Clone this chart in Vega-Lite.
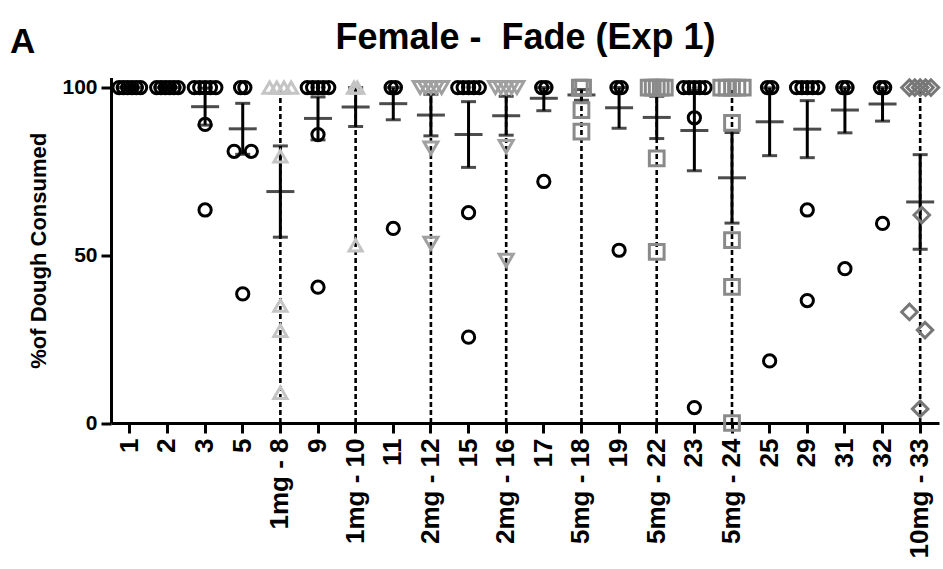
{
  "$schema": "https://vega.github.io/schema/vega-lite/v6.json",
  "autosize": {"type": "none"},
  "padding": {"left": 111, "top": 77.5, "right": 4, "bottom": 146},
  "width": 828,
  "height": 345.5,
  "background": "white",
  "title": {"text": "A", "anchor": "start", "frame": "bounds", "fontSize": 35, "font": "Liberation Sans", "fontWeight": "bold", "color": "black", "baseline": "alphabetic", "offset": 0, "dx": -18, "dy": 69},
  "config": {
    "view": {"stroke": null},
    "axis": {"grid": false, "labelFont": "Liberation Sans", "titleFont": "Liberation Sans", "domainColor": "black", "tickColor": "black", "labelColor": "black", "titleColor": "black"}
  },
  "resolve": {"axis": {"x": "independent"}},
  "datasets": {
    "pts": [
      {"c":"1","v":100,"g":"veh","r":-2},{"c":"1","v":100,"g":"veh","r":-1.2},{"c":"1","v":100,"g":"veh","r":-0.4},{"c":"1","v":100,"g":"veh","r":0.4},{"c":"1","v":100,"g":"veh","r":1.2},{"c":"1","v":100,"g":"veh","r":2},
      {"c":"2","v":100,"g":"veh","r":-2},{"c":"2","v":100,"g":"veh","r":-1.2},{"c":"2","v":100,"g":"veh","r":-0.4},{"c":"2","v":100,"g":"veh","r":0.4},{"c":"2","v":100,"g":"veh","r":1.2},{"c":"2","v":100,"g":"veh","r":2},
      {"c":"3","v":100,"g":"veh","r":-2},{"c":"3","v":100,"g":"veh","r":-1},{"c":"3","v":100,"g":"veh","r":0},{"c":"3","v":100,"g":"veh","r":1},{"c":"3","v":100,"g":"veh","r":2},{"c":"3","v":89,"g":"veh","r":0},{"c":"3","v":63.5,"g":"veh","r":0},
      {"c":"5","v":100,"g":"veh","r":-0.4},{"c":"5","v":100,"g":"veh","r":0.4},{"c":"5","v":81,"g":"veh","r":-1.6},{"c":"5","v":81,"g":"veh","r":1.6},{"c":"5","v":38.5,"g":"veh","r":0},
      {"c":"1mg - 8","v":100,"g":"1mg","r":-2},{"c":"1mg - 8","v":100,"g":"1mg","r":-0.67},{"c":"1mg - 8","v":100,"g":"1mg","r":0.67},{"c":"1mg - 8","v":100,"g":"1mg","r":2},{"c":"1mg - 8","v":79.5,"g":"1mg","r":0},{"c":"1mg - 8","v":35,"g":"1mg","r":0},{"c":"1mg - 8","v":27.5,"g":"1mg","r":0},{"c":"1mg - 8","v":9,"g":"1mg","r":0},
      {"c":"9","v":100,"g":"veh","r":-2},{"c":"9","v":100,"g":"veh","r":-1},{"c":"9","v":100,"g":"veh","r":0},{"c":"9","v":100,"g":"veh","r":1},{"c":"9","v":100,"g":"veh","r":2},{"c":"9","v":86,"g":"veh","r":0},{"c":"9","v":40.5,"g":"veh","r":0},
      {"c":"1mg - 10","v":100,"g":"1mg","r":-0.3},{"c":"1mg - 10","v":100,"g":"1mg","r":0.3},{"c":"1mg - 10","v":53,"g":"1mg","r":0},
      {"c":"11","v":100,"g":"veh","r":-0.4},{"c":"11","v":100,"g":"veh","r":0.4},{"c":"11","v":58,"g":"veh","r":0},
      {"c":"2mg - 12","v":100,"g":"2mg","r":-2},{"c":"2mg - 12","v":100,"g":"2mg","r":-1},{"c":"2mg - 12","v":100,"g":"2mg","r":0},{"c":"2mg - 12","v":100,"g":"2mg","r":1},{"c":"2mg - 12","v":100,"g":"2mg","r":2},{"c":"2mg - 12","v":82,"g":"2mg","r":0},{"c":"2mg - 12","v":53.6,"g":"2mg","r":0},
      {"c":"15","v":100,"g":"veh","r":-2},{"c":"15","v":100,"g":"veh","r":-1},{"c":"15","v":100,"g":"veh","r":0},{"c":"15","v":100,"g":"veh","r":1},{"c":"15","v":100,"g":"veh","r":2},{"c":"15","v":62.7,"g":"veh","r":0},{"c":"15","v":25.6,"g":"veh","r":0},
      {"c":"2mg - 16","v":100,"g":"2mg","r":-2},{"c":"2mg - 16","v":100,"g":"2mg","r":-1},{"c":"2mg - 16","v":100,"g":"2mg","r":0},{"c":"2mg - 16","v":100,"g":"2mg","r":1},{"c":"2mg - 16","v":100,"g":"2mg","r":2},{"c":"2mg - 16","v":82.4,"g":"2mg","r":0},{"c":"2mg - 16","v":48.5,"g":"2mg","r":0},
      {"c":"17","v":100,"g":"veh","r":-0.4},{"c":"17","v":100,"g":"veh","r":0.4},{"c":"17","v":72,"g":"veh","r":0},
      {"c":"5mg - 18","v":100,"g":"5mg","r":-0.3},{"c":"5mg - 18","v":100,"g":"5mg","r":0.3},{"c":"5mg - 18","v":93.3,"g":"5mg","r":0},{"c":"5mg - 18","v":86.9,"g":"5mg","r":0},
      {"c":"19","v":100,"g":"veh","r":-0.4},{"c":"19","v":100,"g":"veh","r":0.4},{"c":"19","v":51.5,"g":"veh","r":0},
      {"c":"5mg - 22","v":100,"g":"5mg","r":-1.5},{"c":"5mg - 22","v":100,"g":"5mg","r":-0.75},{"c":"5mg - 22","v":100,"g":"5mg","r":0},{"c":"5mg - 22","v":100,"g":"5mg","r":0.75},{"c":"5mg - 22","v":100,"g":"5mg","r":1.5},{"c":"5mg - 22","v":78.9,"g":"5mg","r":0},{"c":"5mg - 22","v":51,"g":"5mg","r":0},
      {"c":"23","v":100,"g":"veh","r":-2},{"c":"23","v":100,"g":"veh","r":-1},{"c":"23","v":100,"g":"veh","r":0},{"c":"23","v":100,"g":"veh","r":1},{"c":"23","v":100,"g":"veh","r":2},{"c":"23","v":91,"g":"veh","r":0},{"c":"23","v":4.6,"g":"veh","r":0},
      {"c":"5mg - 24","v":100,"g":"5mg","r":-2},{"c":"5mg - 24","v":100,"g":"5mg","r":-1},{"c":"5mg - 24","v":100,"g":"5mg","r":0},{"c":"5mg - 24","v":100,"g":"5mg","r":1},{"c":"5mg - 24","v":100,"g":"5mg","r":2},{"c":"5mg - 24","v":89.5,"g":"5mg","r":0},{"c":"5mg - 24","v":54.5,"g":"5mg","r":0},{"c":"5mg - 24","v":40.6,"g":"5mg","r":0},{"c":"5mg - 24","v":0,"g":"5mg","r":0},
      {"c":"25","v":100,"g":"veh","r":-0.4},{"c":"25","v":100,"g":"veh","r":0.4},{"c":"25","v":18.5,"g":"veh","r":0},
      {"c":"29","v":100,"g":"veh","r":-2},{"c":"29","v":100,"g":"veh","r":-1},{"c":"29","v":100,"g":"veh","r":0},{"c":"29","v":100,"g":"veh","r":1},{"c":"29","v":100,"g":"veh","r":2},{"c":"29","v":63.5,"g":"veh","r":0},{"c":"29","v":36.5,"g":"veh","r":0},
      {"c":"31","v":100,"g":"veh","r":-0.4},{"c":"31","v":100,"g":"veh","r":0.4},{"c":"31","v":46,"g":"veh","r":0},
      {"c":"32","v":100,"g":"veh","r":-0.4},{"c":"32","v":100,"g":"veh","r":0.4},{"c":"32","v":59.5,"g":"veh","r":0},
      {"c":"10mg - 33","v":100,"g":"10mg","r":-2},{"c":"10mg - 33","v":100,"g":"10mg","r":-1},{"c":"10mg - 33","v":100,"g":"10mg","r":0},{"c":"10mg - 33","v":100,"g":"10mg","r":1},{"c":"10mg - 33","v":100,"g":"10mg","r":2},{"c":"10mg - 33","v":62,"g":"10mg","r":0.3},{"c":"10mg - 33","v":33.1,"g":"10mg","r":-2},{"c":"10mg - 33","v":27.7,"g":"10mg","r":0.9},{"c":"10mg - 33","v":4.2,"g":"10mg","r":0}
    ],
    "stats": [
      {"c":"1","m":100,"lo":100,"hi":100,"g":"veh"},
      {"c":"2","m":100,"lo":100,"hi":100,"g":"veh"},
      {"c":"3","m":94.3,"lo":88.8,"hi":99.8,"g":"veh"},
      {"c":"5","m":87.7,"lo":80.1,"hi":95.3,"g":"veh"},
      {"c":"1mg - 8","m":69,"lo":55.4,"hi":82.6,"g":"1mg"},
      {"c":"9","m":90.8,"lo":84.4,"hi":97.2,"g":"veh"},
      {"c":"1mg - 10","m":94.2,"lo":88.4,"hi":100,"g":"1mg"},
      {"c":"11","m":95.2,"lo":90.4,"hi":100,"g":"veh"},
      {"c":"2mg - 12","m":91.8,"lo":85.6,"hi":98,"g":"2mg"},
      {"c":"15","m":86,"lo":76.2,"hi":95.8,"g":"veh"},
      {"c":"2mg - 16","m":91.6,"lo":85.8,"hi":97.4,"g":"2mg"},
      {"c":"17","m":96.8,"lo":93.1,"hi":100,"g":"veh"},
      {"c":"5mg - 18","m":97.8,"lo":96.2,"hi":99.4,"g":"5mg"},
      {"c":"19","m":94,"lo":87.9,"hi":100,"g":"veh"},
      {"c":"5mg - 22","m":91.1,"lo":84.8,"hi":97.4,"g":"5mg"},
      {"c":"23","m":87.2,"lo":75.2,"hi":99.2,"g":"veh"},
      {"c":"5mg - 24","m":73.1,"lo":59.6,"hi":86.6,"g":"5mg"},
      {"c":"25","m":89.8,"lo":79.7,"hi":99.9,"g":"veh"},
      {"c":"29","m":87.6,"lo":79.1,"hi":96.1,"g":"veh"},
      {"c":"31","m":93.3,"lo":86.5,"hi":100,"g":"veh"},
      {"c":"32","m":95.1,"lo":90,"hi":100,"g":"veh"},
      {"c":"10mg - 33","m":65.9,"lo":51.8,"hi":80,"g":"10mg"}
    ]
  },
  "layer": [
    {
      "data": {"name": "stats"},
      "transform": [{"filter": "datum.g != 'veh'"}],
      "mark": {"type": "rule", "color": "black", "strokeWidth": 2.6, "strokeDash": [5, 3]},
      "encoding": {
        "x": {
          "field": "c", "type": "nominal",
          "scale": {"type": "band", "paddingInner": 0, "paddingOuter": 0, "domain": ["1","2","3","5","1mg - 8","9","1mg - 10","11","2mg - 12","15","2mg - 16","17","5mg - 18","19","5mg - 22","23","5mg - 24","25","29","31","32","10mg - 33"]},
          "axis": {"orient": "bottom", "title": null, "labelAngle": -90, "labelFontSize": 26, "labelFontWeight": "bold", "labelPadding": 5, "tickSize": 10, "tickWidth": 3, "domainWidth": 3, "labelOverlap": false, "labelLimit": 300}
        },
        "y": {
          "datum": 0, "type": "quantitative", "title": "%of Dough Consumed",
          "scale": {"domain": [0, 103], "nice": false, "zero": true},
          "axis": {"values": [0, 50, 100], "labelFontSize": 21, "labelFontWeight": "bold", "labelPadding": 4, "tickSize": 10, "tickWidth": 3, "domainWidth": 3, "titleFontSize": 22, "titleFontWeight": "bold", "titlePadding": 11}
        },
        "y2": {"datum": 100}
      }
    },
    {
      "data": {"name": "stats"},
      "mark": {"type": "rule", "color": "black", "strokeWidth": 3},
      "encoding": {
        "x": {"field": "c", "type": "nominal",
          "axis": {"orient": "top", "title": "Female - \u00a0Fade (Exp 1)", "labels": false, "ticks": false, "domain": false, "titleFontSize": 36, "titleFontWeight": "bold", "titleColor": "black", "titlePadding": 29.5, "titleBaseline": "alphabetic"}},
        "y": {"field": "lo", "type": "quantitative", "title": "%of Dough Consumed"},
        "y2": {"field": "hi"}
      }
    },
    {
      "data": {"name": "stats"},
      "mark": {"type": "tick", "color": "black", "size": 28, "thickness": 3},
      "encoding": {
        "x": {"field": "c", "type": "nominal", "axis": null},
        "y": {"field": "m", "type": "quantitative", "title": "%of Dough Consumed"}
      }
    },
    {
      "data": {"name": "stats"},
      "mark": {"type": "tick", "color": "black", "size": 15, "thickness": 3},
      "encoding": {
        "x": {"field": "c", "type": "nominal", "axis": null},
        "y": {"field": "lo", "type": "quantitative", "title": "%of Dough Consumed"}
      }
    },
    {
      "data": {"name": "stats"},
      "mark": {"type": "tick", "color": "black", "size": 15, "thickness": 3},
      "encoding": {
        "x": {"field": "c", "type": "nominal", "axis": null},
        "y": {"field": "hi", "type": "quantitative", "title": "%of Dough Consumed"}
      }
    },
    {
      "data": {"name": "pts"},
      "mark": {"type": "point", "filled": false, "strokeWidth": 3, "opacity": 1},
      "encoding": {
        "x": {"field": "c", "type": "nominal", "axis": null},
        "xOffset": {"field": "r", "type": "quantitative", "scale": {"domain": [-3.5, 3.5], "range": [0, 37.636]}},
        "y": {"field": "v", "type": "quantitative", "title": "%of Dough Consumed"},
        "shape": {"field": "g", "type": "nominal", "legend": null, "scale": {"domain": ["veh","1mg","2mg","5mg","10mg"], "range": ["circle","triangle-up","triangle-down","square","diamond"]}},
        "color": {"field": "g", "type": "nominal", "legend": null, "scale": {"domain": ["veh","1mg","2mg","5mg","10mg"], "range": ["#000000","#c4c4c4","#a0a0a0","#8a8a8a","#777777"]}},
        "size": {"field": "g", "type": "nominal", "legend": null, "scale": {"domain": ["veh","1mg","2mg","5mg","10mg"], "range": [150, 240, 240, 200, 300]}}
      }
    }
  ]
}
